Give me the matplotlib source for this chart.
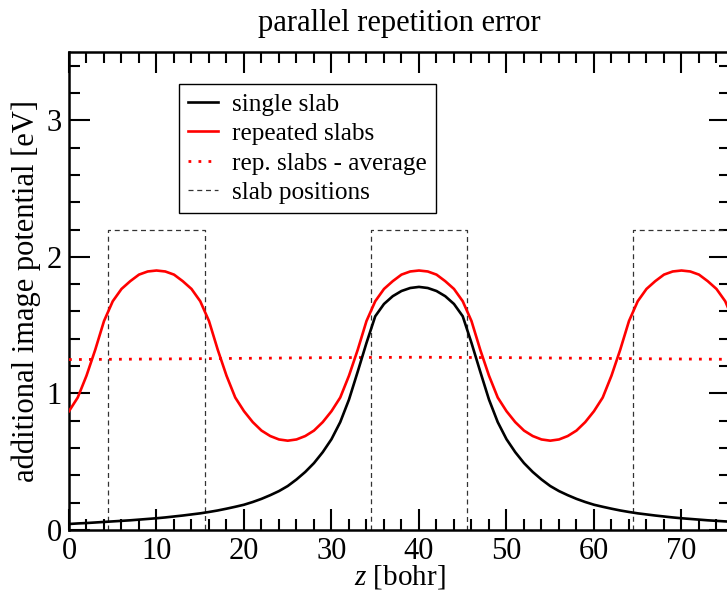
import numpy as np
import matplotlib
matplotlib.use("Agg")
import matplotlib.pyplot as plt
from matplotlib.ticker import MultipleLocator

plt.rcParams['font.family'] = ['Liberation Serif', 'DejaVu Serif']
plt.rcParams['mathtext.fontset'] = 'custom'
plt.rcParams['mathtext.rm'] = 'Liberation Serif'
plt.rcParams['mathtext.it'] = 'Liberation Serif:italic'

# grid along z [bohr]
z = np.append(np.arange(0, 76), 75.5)

# image potential of a single slab centred at z = 40 bohr [eV]
single_slab = [
    0.044, 0.048, 0.051, 0.055, 0.059, 0.063, 0.067, 0.071, 0.076, 0.081,
    0.086, 0.092, 0.099, 0.106, 0.114, 0.122, 0.132, 0.143, 0.156, 0.170,
    0.185, 0.205, 0.228, 0.255, 0.285, 0.322, 0.370, 0.425, 0.490, 0.570,
    0.665, 0.790, 0.955, 1.160, 1.370, 1.565, 1.655, 1.712, 1.750, 1.772,
    1.780, 1.772, 1.750, 1.712, 1.655, 1.565, 1.370, 1.160, 0.955, 0.790,
    0.665, 0.570, 0.490, 0.425, 0.370, 0.322, 0.285, 0.255, 0.228, 0.205,
    0.185, 0.170, 0.156, 0.143, 0.132, 0.122, 0.114, 0.106, 0.099, 0.092,
    0.086, 0.081, 0.076, 0.071, 0.067, 0.063, 0.061,
]

# image potential with periodically repeated slabs [eV]
repeated_slabs = [
    0.870, 0.970, 1.130, 1.320, 1.530, 1.675, 1.765, 1.822, 1.870, 1.893,
    1.900, 1.893, 1.870, 1.822, 1.765, 1.675, 1.530, 1.320, 1.130, 0.970,
    0.870, 0.790, 0.728, 0.688, 0.663, 0.654, 0.663, 0.688, 0.728, 0.790,
    0.870, 0.970, 1.130, 1.320, 1.530, 1.675, 1.765, 1.822, 1.870, 1.893,
    1.900, 1.893, 1.870, 1.822, 1.765, 1.675, 1.530, 1.320, 1.130, 0.970,
    0.870, 0.790, 0.728, 0.688, 0.663, 0.654, 0.663, 0.688, 0.728, 0.790,
    0.870, 0.970, 1.130, 1.320, 1.530, 1.675, 1.765, 1.822, 1.870, 1.893,
    1.900, 1.893, 1.870, 1.822, 1.765, 1.675, 1.600,
]

# laterally averaged repeated-slab potential
avg_z = [0, 10, 20, 30, 40, 50, 60, 70, 75.5]
avg_v = [1.248, 1.252, 1.257, 1.262, 1.265, 1.262, 1.257, 1.252, 1.250]

# slab extents [bohr] and box height [eV]
slab_left = [4.5, 34.5, 64.5]
slab_right = [15.5, 45.5, 75.5]
slab_height = 2.2

W, H = 727, 590
fig = plt.figure(figsize=(W / 100, H / 100), dpi=100)
ax = fig.add_axes([69 / W, (H - 530) / H, 660.6 / W, 478 / H])

ax.plot(z, single_slab, color='black', lw=1.9, label='single slab', zorder=4)
ax.plot(z, repeated_slabs, color='#ff0000', lw=1.9, label='repeated slabs', zorder=5)
ax.plot(avg_z, avg_v, color='#ff0000', lw=2.0, linestyle=(0, (1, 2.6)),
        label='rep. slabs - average', zorder=3)
for i, (a, b) in enumerate(zip(slab_left, slab_right)):
    ax.plot([a, a, b, b], [0, slab_height, slab_height, 0], color='#333333',
            lw=0.9, linestyle=(0, (4, 3)),
            label='slab positions' if i == 0 else None, zorder=2)

ax.set_xlim(0, 75.5)
ax.set_ylim(0, 3.5)
ax.xaxis.set_major_locator(MultipleLocator(10))
ax.xaxis.set_minor_locator(MultipleLocator(2))
ax.yaxis.set_major_locator(MultipleLocator(1))
ax.yaxis.set_minor_locator(MultipleLocator(0.2))
ax.tick_params(which='both', direction='in', top=True, right=True,
               labelsize=22, width=1.5)
ax.tick_params(which='major', length=15, pad=5)
ax.tick_params(which='minor', length=8)
for s in ax.spines.values():
    s.set_linewidth(1.8)

ax.set_title('parallel repetition error', fontsize=22, pad=15)
ax.set_xlabel('$z$ [bohr]', fontsize=21, labelpad=-2)
ax.set_ylabel('additional image potential [eV]', fontsize=22, labelpad=4)

leg = ax.legend(loc='upper left', bbox_to_anchor=(0.1665, 0.933),
                borderaxespad=0, fontsize=18.2, handlelength=1.2,
                handletextpad=0.55, labelspacing=0.27, borderpad=0.35,
                fancybox=False, framealpha=1)
leg.get_frame().set_edgecolor('black')
leg.get_frame().set_linewidth(1.0)

fig.savefig('out.png', dpi=100)
